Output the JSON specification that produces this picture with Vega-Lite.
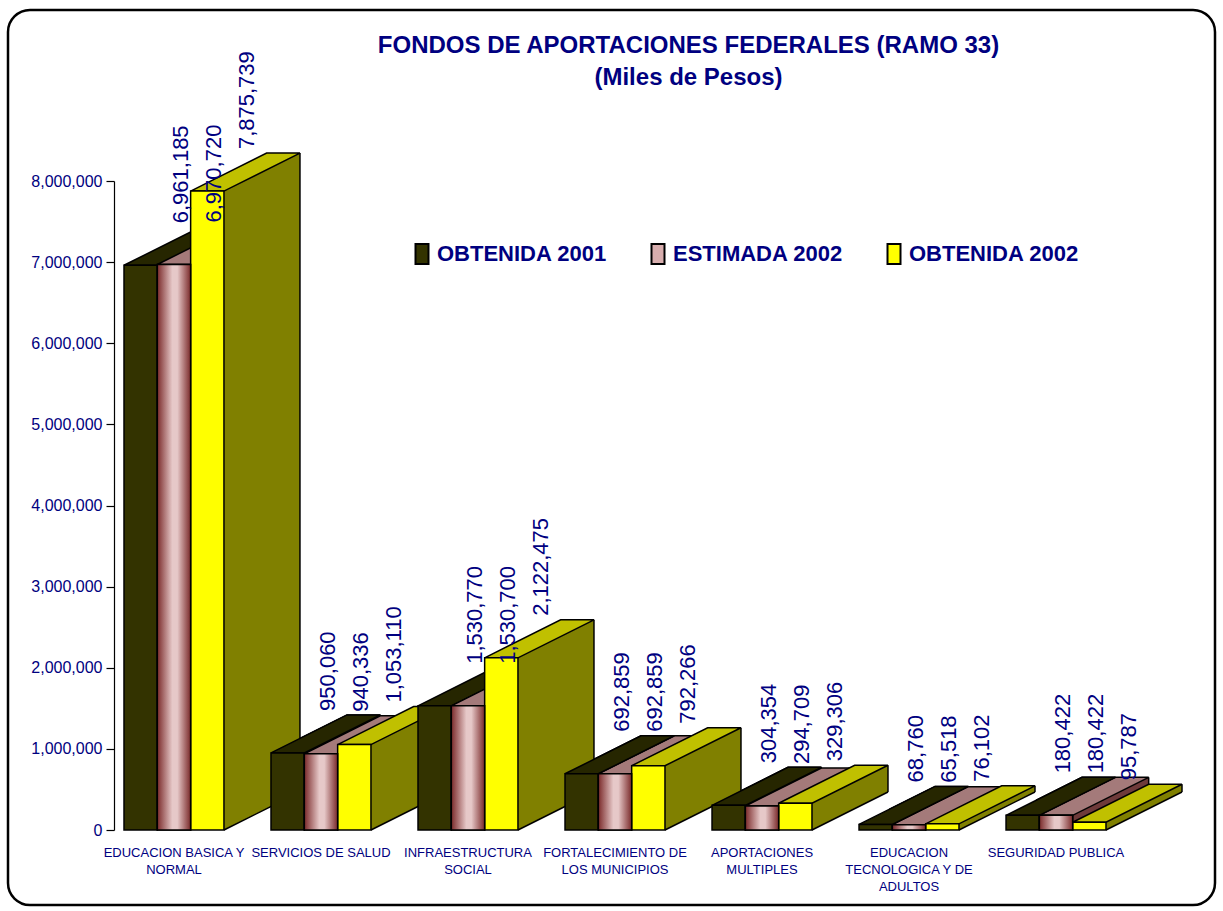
{
  "$schema": "https://vega.github.io/schema/vega-lite/v6.json",
  "width": 1207,
  "height": 895,
  "autosize": {"type": "none"},
  "padding": {"left": 8, "top": 10, "right": 8, "bottom": 6},
  "background": "white",
  "title": {
    "text": ["FONDOS DE APORTACIONES FEDERALES (RAMO 33)", "(Miles de Pesos)"],
    "anchor": "middle",
    "dx": 77,
    "offset": -80,
    "baseline": "top",
    "lineHeight": 32,
    "font": "Liberation Sans",
    "fontSize": 24,
    "fontWeight": "bold",
    "color": "#000080"
  },
  "config": {
    "view": {"stroke": "black", "strokeWidth": 2.5, "cornerRadius": 22, "fill": "white"},
    "axis": {"grid": false, "domainColor": "black", "tickColor": "black", "labelColor": "#000080", "labelFont": "Liberation Sans"}
  },
  "datasets": {
    "fondos": [
      {"fondo": "EDUCACION BASICA Y NORMAL", "serie": "OBTENIDA 2001", "valor": 6961185},
      {"fondo": "EDUCACION BASICA Y NORMAL", "serie": "ESTIMADA 2002", "valor": 6970720},
      {"fondo": "EDUCACION BASICA Y NORMAL", "serie": "OBTENIDA 2002", "valor": 7875739},
      {"fondo": "SERVICIOS DE SALUD", "serie": "OBTENIDA 2001", "valor": 950060},
      {"fondo": "SERVICIOS DE SALUD", "serie": "ESTIMADA 2002", "valor": 940336},
      {"fondo": "SERVICIOS DE SALUD", "serie": "OBTENIDA 2002", "valor": 1053110},
      {"fondo": "INFRAESTRUCTURA SOCIAL", "serie": "OBTENIDA 2001", "valor": 1530770},
      {"fondo": "INFRAESTRUCTURA SOCIAL", "serie": "ESTIMADA 2002", "valor": 1530700},
      {"fondo": "INFRAESTRUCTURA SOCIAL", "serie": "OBTENIDA 2002", "valor": 2122475},
      {"fondo": "FORTALECIMIENTO DE LOS MUNICIPIOS", "serie": "OBTENIDA 2001", "valor": 692859},
      {"fondo": "FORTALECIMIENTO DE LOS MUNICIPIOS", "serie": "ESTIMADA 2002", "valor": 692859},
      {"fondo": "FORTALECIMIENTO DE LOS MUNICIPIOS", "serie": "OBTENIDA 2002", "valor": 792266},
      {"fondo": "APORTACIONES MULTIPLES", "serie": "OBTENIDA 2001", "valor": 304354},
      {"fondo": "APORTACIONES MULTIPLES", "serie": "ESTIMADA 2002", "valor": 294709},
      {"fondo": "APORTACIONES MULTIPLES", "serie": "OBTENIDA 2002", "valor": 329306},
      {"fondo": "EDUCACION TECNOLOGICA Y DE ADULTOS", "serie": "OBTENIDA 2001", "valor": 68760},
      {"fondo": "EDUCACION TECNOLOGICA Y DE ADULTOS", "serie": "ESTIMADA 2002", "valor": 65518},
      {"fondo": "EDUCACION TECNOLOGICA Y DE ADULTOS", "serie": "OBTENIDA 2002", "valor": 76102},
      {"fondo": "SEGURIDAD PUBLICA", "serie": "OBTENIDA 2001", "valor": 180422},
      {"fondo": "SEGURIDAD PUBLICA", "serie": "ESTIMADA 2002", "valor": 180422},
      {"fondo": "SEGURIDAD PUBLICA", "serie": "OBTENIDA 2002", "valor": 95787}
    ]
  },
  "data": {"name": "fondos"},
  "encoding": {
    "x": {
      "field": "fondo", "type": "nominal", "sort": null,
      "scale": {"range": [116, 1098], "paddingInner": 0.32, "paddingOuter": 0},
      "axis": {
        "title": null, "domain": false, "ticks": false, "labelAngle": 0, "offset": -75,
        "labelFontSize": 13, "labelLineHeight": 17, "labelPadding": 16, "zindex": 1,
        "labelColor": "#000080", "labelLimit": 200,
        "labelExpr": "datum.value == 'EDUCACION BASICA Y NORMAL' ? ['EDUCACION BASICA Y', 'NORMAL'] : datum.value == 'INFRAESTRUCTURA SOCIAL' ? ['INFRAESTRUCTURA', 'SOCIAL'] : datum.value == 'FORTALECIMIENTO DE LOS MUNICIPIOS' ? ['FORTALECIMIENTO DE', 'LOS MUNICIPIOS'] : datum.value == 'APORTACIONES MULTIPLES' ? ['APORTACIONES', 'MULTIPLES'] : datum.value == 'EDUCACION TECNOLOGICA Y DE ADULTOS' ? ['EDUCACION', 'TECNOLOGICA Y DE', 'ADULTOS'] : datum.value"
      }
    },
    "y": {
      "field": "valor", "type": "quantitative",
      "scale": {"domain": [0, 8000000], "range": [820, 171], "nice": false, "zero": true},
      "axis": {
        "title": null, "values": [0, 1000000, 2000000, 3000000, 4000000, 5000000, 6000000, 7000000, 8000000],
        "format": ",.0f", "offset": -106, "tickSize": 8, "labelPadding": 4, "labelFontSize": 16, "domainWidth": 1.2, "tickWidth": 1.2
      }
    }
  },
  "layer": [
    {"transform": [{"filter": "datum.serie === 'OBTENIDA 2001'"}],
     "mark": {"type": "bar", "width": 76, "xOffset": 21.34, "color": "#1E1E00", "strokeWidth": 0},
     "encoding": {"y2": {"datum": 0}}},
    {"transform": [{"filter": "datum.serie === 'OBTENIDA 2001'"}],
     "mark": {"type": "point", "xOffset": -33.32, "shape": "M16.66,0.8L16.66,0L92.66,-38L92.66,0.8Z", "size": 4, "filled": true, "opacity": 1, "color": "#1E1E00", "strokeWidth": 0}},
    {"transform": [{"filter": "datum.serie === 'OBTENIDA 2001'"}],
     "mark": {"type": "point", "xOffset": -33.32, "shape": "M16.66,0L93.6,-38.47L93.6,1.5L16.66,1.5Z", "size": 4, "filled": true, "opacity": 1, "color": "white", "strokeWidth": 0},
     "encoding": {"y": {"datum": 0, "type": "quantitative",
       "scale": {"domain": [0, 8000000], "range": [820, 171], "nice": false, "zero": true},
       "axis": {"title": null, "values": [0, 1000000, 2000000, 3000000, 4000000, 5000000, 6000000, 7000000, 8000000],
         "format": ",.0f", "offset": -106, "tickSize": 8, "labelPadding": 4, "labelFontSize": 16, "domainWidth": 1.2, "tickWidth": 1.2}}}},
    {"transform": [{"filter": "datum.serie === 'OBTENIDA 2001'"}],
     "mark": {"type": "rule", "xOffset": 59.34, "yOffset": -38, "y2Offset": -38, "color": "black", "strokeWidth": 1.5},
     "encoding": {"y2": {"datum": 0}}},
    {"transform": [{"filter": "datum.serie === 'OBTENIDA 2001'"}],
     "mark": {"type": "point", "xOffset": -33.32, "shape": "M-16.66,0L16.66,0L92.66,-38L59.34,-38Z", "size": 4, "filled": true, "opacity": 1, "color": "#262600", "stroke": "black", "strokeWidth": 1.5, "strokeJoin": "miter"}},

    {"transform": [{"filter": "datum.serie === 'ESTIMADA 2002'"}],
     "mark": {"type": "bar", "width": 76, "xOffset": 54.66, "color": "#6E3A3A", "strokeWidth": 0},
     "encoding": {"y2": {"datum": 0}}},
    {"transform": [{"filter": "datum.serie === 'ESTIMADA 2002'"}],
     "mark": {"type": "point", "xOffset": 0, "shape": "M16.66,0.8L16.66,0L92.66,-38L92.66,0.8Z", "size": 4, "filled": true, "opacity": 1, "color": "#6E3A3A", "strokeWidth": 0}},
    {"transform": [{"filter": "datum.serie === 'ESTIMADA 2002'"}],
     "mark": {"type": "point", "xOffset": 0, "shape": "M16.66,0L93.6,-38.47L93.6,1.5L16.66,1.5Z", "size": 4, "filled": true, "opacity": 1, "color": "white", "strokeWidth": 0},
     "encoding": {"y": {"datum": 0, "type": "quantitative",
       "scale": {"domain": [0, 8000000], "range": [820, 171], "nice": false, "zero": true},
       "axis": {"title": null, "values": [0, 1000000, 2000000, 3000000, 4000000, 5000000, 6000000, 7000000, 8000000],
         "format": ",.0f", "offset": -106, "tickSize": 8, "labelPadding": 4, "labelFontSize": 16, "domainWidth": 1.2, "tickWidth": 1.2}}}},
    {"transform": [{"filter": "datum.serie === 'ESTIMADA 2002'"}],
     "mark": {"type": "rule", "xOffset": 92.66, "yOffset": -38, "y2Offset": -38, "color": "black", "strokeWidth": 1.5},
     "encoding": {"y2": {"datum": 0}}},
    {"transform": [{"filter": "datum.serie === 'ESTIMADA 2002'"}],
     "mark": {"type": "point", "xOffset": 0, "shape": "M-16.66,0L16.66,0L92.66,-38L59.34,-38Z", "size": 4, "filled": true, "opacity": 1, "color": "#A47A7A", "stroke": "black", "strokeWidth": 1.5, "strokeJoin": "miter"}},

    {"transform": [{"filter": "datum.serie === 'OBTENIDA 2002'"}],
     "mark": {"type": "bar", "width": 76, "xOffset": 87.98, "color": "#808000", "strokeWidth": 0},
     "encoding": {"y2": {"datum": 0}}},
    {"transform": [{"filter": "datum.serie === 'OBTENIDA 2002'"}],
     "mark": {"type": "point", "xOffset": 33.32, "shape": "M16.66,0.8L16.66,0L92.66,-38L92.66,0.8Z", "size": 4, "filled": true, "opacity": 1, "color": "#808000", "strokeWidth": 0}},
    {"transform": [{"filter": "datum.serie === 'OBTENIDA 2002'"}],
     "mark": {"type": "point", "xOffset": 33.32, "shape": "M16.66,0L93.6,-38.47L93.6,1.5L16.66,1.5Z", "size": 4, "filled": true, "opacity": 1, "color": "white", "strokeWidth": 0},
     "encoding": {"y": {"datum": 0, "type": "quantitative",
       "scale": {"domain": [0, 8000000], "range": [820, 171], "nice": false, "zero": true},
       "axis": {"title": null, "values": [0, 1000000, 2000000, 3000000, 4000000, 5000000, 6000000, 7000000, 8000000],
         "format": ",.0f", "offset": -106, "tickSize": 8, "labelPadding": 4, "labelFontSize": 16, "domainWidth": 1.2, "tickWidth": 1.2}}}},
    {"transform": [{"filter": "datum.serie === 'OBTENIDA 2002'"}],
     "mark": {"type": "point", "xOffset": 33.32, "shape": "M16.66,0L92.66,-38", "size": 4, "filled": false, "opacity": 1, "color": "black", "strokeWidth": 1.5},
     "encoding": {"y": {"datum": 0, "type": "quantitative",
       "scale": {"domain": [0, 8000000], "range": [820, 171], "nice": false, "zero": true},
       "axis": {"title": null, "values": [0, 1000000, 2000000, 3000000, 4000000, 5000000, 6000000, 7000000, 8000000],
         "format": ",.0f", "offset": -106, "tickSize": 8, "labelPadding": 4, "labelFontSize": 16, "domainWidth": 1.2, "tickWidth": 1.2}}}},
    {"transform": [{"filter": "datum.serie === 'OBTENIDA 2002'"}],
     "mark": {"type": "rule", "xOffset": 125.98, "yOffset": -38, "y2Offset": -38, "color": "black", "strokeWidth": 1.5},
     "encoding": {"y2": {"datum": 0}}},
    {"transform": [{"filter": "datum.serie === 'OBTENIDA 2002'"}],
     "mark": {"type": "point", "xOffset": 33.32, "shape": "M-16.66,0L16.66,0L92.66,-38L59.34,-38Z", "size": 4, "filled": true, "opacity": 1, "color": "#C0C000", "stroke": "black", "strokeWidth": 1.5, "strokeJoin": "miter"}},

    {"transform": [{"filter": "datum.serie === 'OBTENIDA 2001' && datum.fondo !== 'EDUCACION BASICA Y NORMAL' && datum.fondo !== 'INFRAESTRUCTURA SOCIAL'"}],
     "mark": {"type": "point", "xOffset": -33.32, "shape": "M-16.66,0L16.66,0L92.66,-38L59.34,-38Z", "size": 4, "filled": true, "opacity": 1, "color": "#262600", "stroke": "black", "strokeWidth": 1.5, "strokeJoin": "miter"}},

    {"mark": {"type": "bar", "stroke": "black", "strokeWidth": 1.5},
     "encoding": {
       "y2": {"datum": 0},
       "xOffset": {"field": "serie", "type": "nominal", "sort": ["OBTENIDA 2001", "ESTIMADA 2002", "OBTENIDA 2002"],
         "scale": {"domain": ["OBTENIDA 2001", "ESTIMADA 2002", "OBTENIDA 2002"], "paddingInner": 0, "paddingOuter": 0}},
       "color": {
         "field": "serie", "type": "nominal",
         "scale": {"domain": ["OBTENIDA 2001", "ESTIMADA 2002", "OBTENIDA 2002"], "range": ["#333300", "#D8AEAE", "#FFFF00"]},
         "legend": {
           "orient": "none", "legendX": 403, "legendY": 233, "direction": "horizontal", "title": null,
           "symbolType": "M-0.65,-1H0.65V1H-0.65Z", "symbolSize": 400, "symbolStrokeColor": "black", "symbolStrokeWidth": 2,
           "labelFont": "Liberation Sans", "labelFontSize": 22, "labelFontWeight": "bold", "labelColor": "#000080",
           "labelOffset": 4, "columnPadding": 40, "padding": 0, "labelLimit": 400
         }
       }
     }},
    {"transform": [{"filter": "datum.serie === 'ESTIMADA 2002'"}],
     "mark": {"type": "bar", "stroke": "black", "strokeWidth": 1.5,
       "color": {"gradient": "linear", "x1": 0, "x2": 1, "y1": 0, "y2": 0,
         "stops": [{"offset": 0, "color": "#7A2A2A"}, {"offset": 0.45, "color": "#E6C8C8"}, {"offset": 0.6, "color": "#E6C8C8"}, {"offset": 1, "color": "#7A2A2A"}]}},
     "encoding": {
       "y2": {"datum": 0},
       "xOffset": {"field": "serie", "type": "nominal", "sort": ["OBTENIDA 2001", "ESTIMADA 2002", "OBTENIDA 2002"],
         "scale": {"domain": ["OBTENIDA 2001", "ESTIMADA 2002", "OBTENIDA 2002"], "paddingInner": 0, "paddingOuter": 0}}
     }},

    {"mark": {"type": "text", "angle": 270, "align": "left", "baseline": "middle", "dx": 42, "dy": 40,
       "font": "Liberation Sans", "fontSize": 22, "color": "#000080"},
     "encoding": {
       "xOffset": {"field": "serie", "type": "nominal", "sort": ["OBTENIDA 2001", "ESTIMADA 2002", "OBTENIDA 2002"],
         "scale": {"domain": ["OBTENIDA 2001", "ESTIMADA 2002", "OBTENIDA 2002"], "paddingInner": 0, "paddingOuter": 0}},
       "text": {"field": "valor", "type": "quantitative", "format": ",d"}
     }}
  ]
}
